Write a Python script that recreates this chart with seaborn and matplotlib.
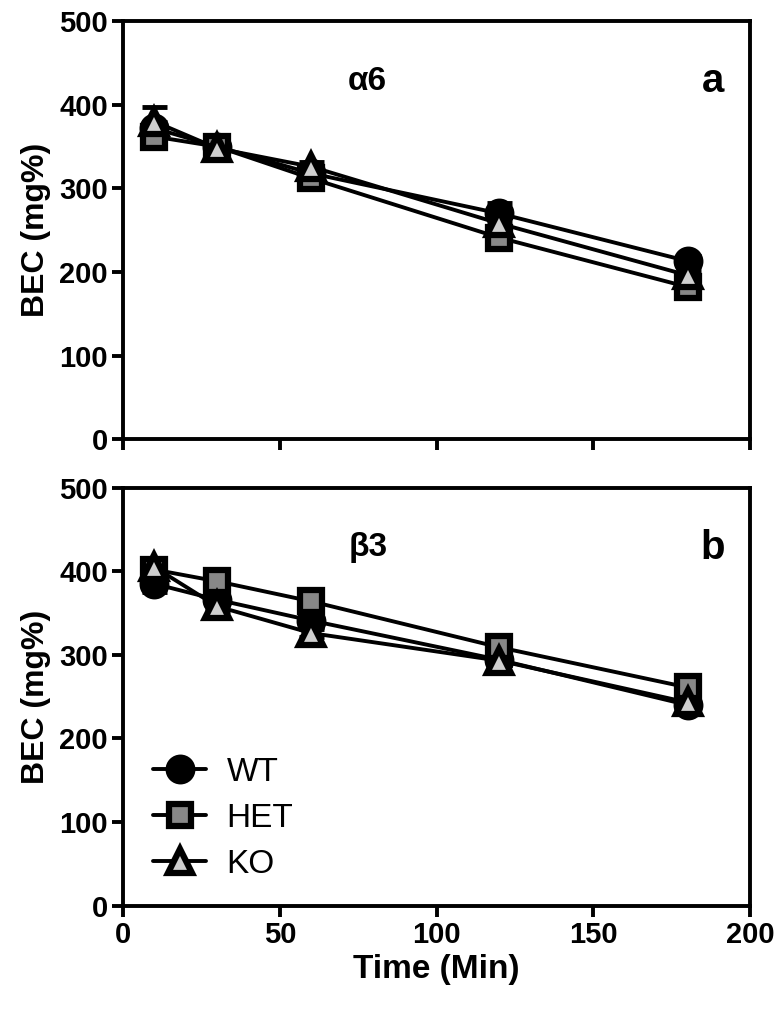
import numpy as np
import pandas as pd
import matplotlib
matplotlib.use("Agg")
import matplotlib.pyplot as plt
import seaborn as sns

# time points (min)
time = [10, 30, 60, 120, 180]
groups = ["WT", "HET", "KO"]

# panel a (alpha6) - mean BEC, mg%
a_wt = [372, 350, 318, 270, 213]
a_het = [362, 350, 312, 241, 182]
a_ko = [380, 348, 326, 258, 196]
a_wt_sem = [8, 5, 6, 12, 6]
a_het_sem = [6, 5, 6, 6, 5]
a_ko_sem = [17, 5, 6, 8, 5]

# panel b (beta3)
b_wt = [385, 366, 341, 294, 240]
b_het = [402, 388, 364, 309, 261]
b_ko = [405, 358, 326, 293, 243]
b_wt_sem = [10, 6, 8, 6, 5]
b_het_sem = [6, 6, 6, 6, 6]
b_ko_sem = [6, 6, 5, 5, 5]

styles = {
    "WT": dict(marker="o", markerfacecolor="black", ms=17),
    "HET": dict(marker="s", markerfacecolor="#888888", ms=16),
    "KO": dict(marker="^", markerfacecolor="#cfcfcf", ms=17),
}

sns.set_style("ticks")
plt.rcParams["font.family"] = ["Liberation Sans", "DejaVu Sans"]
plt.rcParams["font.weight"] = "bold"
plt.rcParams["text.color"] = "black"
plt.rcParams["axes.labelcolor"] = "black"
plt.rcParams["xtick.color"] = "black"
plt.rcParams["ytick.color"] = "black"
plt.rcParams["axes.edgecolor"] = "black"

fig = plt.figure(figsize=(7.84, 10.14), dpi=100)
ax1 = fig.add_axes([0.157, 0.567, 0.800, 0.412])
ax2 = fig.add_axes([0.157, 0.107, 0.800, 0.412])

panels = [
    (ax1, [a_wt, a_het, a_ko], [a_wt_sem, a_het_sem, a_ko_sem], "\u03b16", "a"),
    (ax2, [b_wt, b_het, b_ko], [b_wt_sem, b_het_sem, b_ko_sem], "\u03b23", "b"),
]

for ax, means, sems, gene, letter in panels:
    for g, m, s in zip(groups, means, sems):
        df = pd.DataFrame({"Time": time, "BEC": m})
        ax.errorbar(time, m, yerr=s, fmt="none", ecolor="black",
                    elinewidth=3, capsize=9, capthick=3.5, zorder=2)
        sns.lineplot(data=df, x="Time", y="BEC", ax=ax, color="black",
                     lw=2.8, markeredgecolor="black", markeredgewidth=4.5,
                     label=g, zorder=3, **styles[g])
    ax.set_xlim(0, 200)
    ax.set_ylim(0, 500)
    ax.set_xticks([0, 50, 100, 150, 200])
    ax.set_yticks([0, 100, 200, 300, 400, 500])
    for sp in ax.spines.values():
        sp.set_linewidth(2.8)
        sp.set_visible(True)
    ax.tick_params(axis="both", length=8, width=2.8, labelsize=21, pad=3)
    ax.tick_params(top=False, right=False)
    for t in ax.get_yticklabels() + ax.get_xticklabels():
        t.set_fontweight("bold")
    ax.set_ylabel("BEC (mg%)", fontsize=23, fontweight="bold", labelpad=6)
    ax.text(78, 428, gene, fontsize=24, fontweight="bold", ha="center", va="center")
    ax.text(188, 428, letter, fontsize=29, fontweight="bold", ha="center", va="center")

ax1.set_xlabel("")
ax1.set_xticklabels([])
ax1.get_legend().remove()
ax2.set_xlabel("Time (Min)", fontsize=24, fontweight="bold", labelpad=4)

leg = ax2.legend(loc="lower left", bbox_to_anchor=(0.0, -0.01), frameon=False,
                 handlelength=1.6, handletextpad=0.6, labelspacing=0.45,
                 prop={"size": 24, "weight": "normal"})

fig.savefig("out.png", dpi=100)
